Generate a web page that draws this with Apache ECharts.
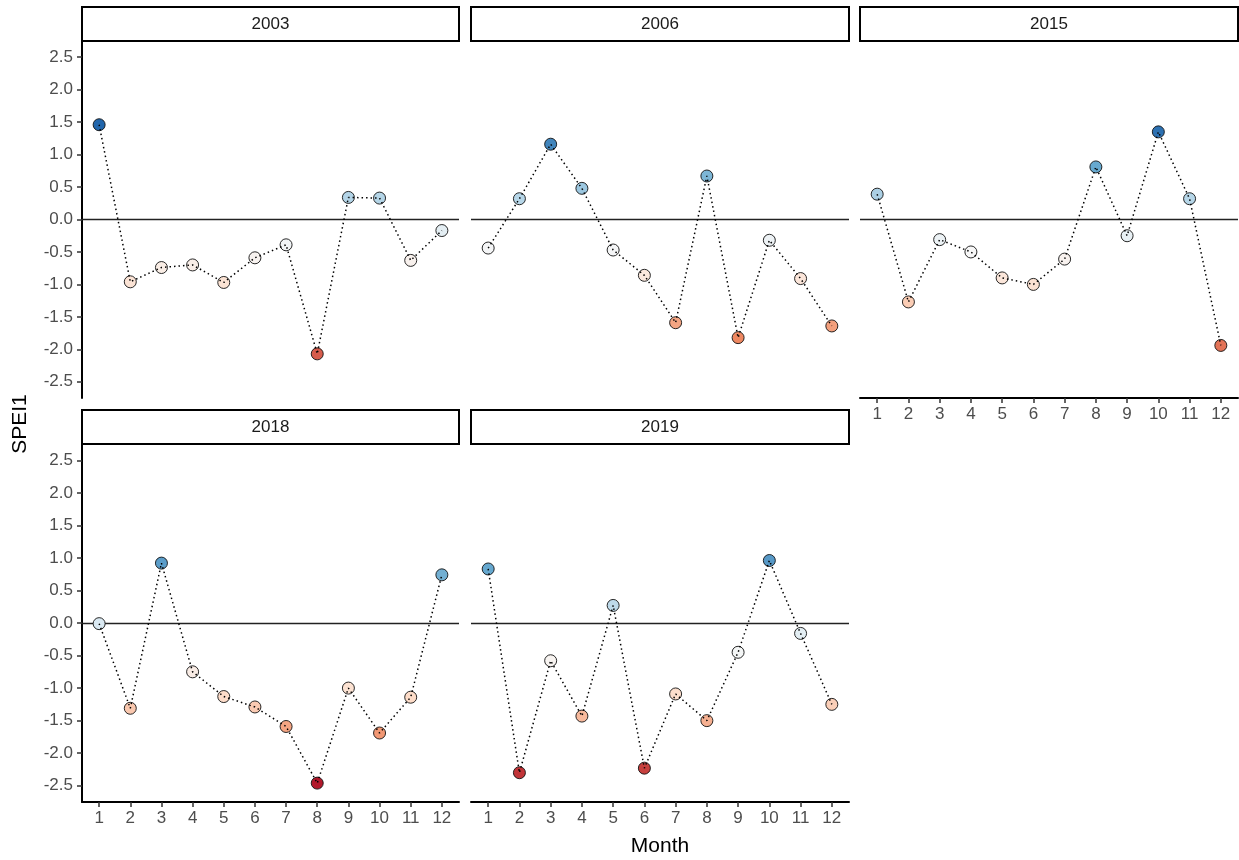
<!DOCTYPE html>
<html>
<head>
<meta charset="utf-8">
<script src="https://cdn.jsdelivr.net/npm/echarts@6/dist/echarts.min.js"></script>
<style>
html,body{margin:0;padding:0;background:#fff;}
#chart{width:1239px;height:860px;}
</style>
</head>
<body>
<div id="chart"></div>
<script>
// ---- data ----
const months = [1,2,3,4,5,6,7,8,9,10,11,12];
const years = ['2003','2006','2015','2018','2019'];
const spei2003 = [1.46,-0.96,-0.74,-0.70,-0.97,-0.59,-0.39,-2.07,0.34,0.33,-0.63,-0.17];
const spei2006 = [-0.44,0.32,1.16,0.48,-0.47,-0.86,-1.59,0.67,-1.82,-0.32,-0.91,-1.64];
const spei2015 = [0.39,-1.27,-0.31,-0.50,-0.90,-1.00,-0.61,0.81,-0.25,1.35,0.32,-1.94];
const spei2018 = [-0.01,-1.31,0.92,-0.75,-1.13,-1.29,-1.59,-2.46,-1.00,-1.69,-1.14,0.74];
const spei2019 = [0.83,-2.30,-0.58,-1.43,0.27,-2.23,-1.09,-1.50,-0.45,0.96,-0.16,-1.25];
const yTicks = [-2.5,-2.0,-1.5,-1.0,-0.5,0.0,0.5,1.0,1.5,2.0,2.5];
const palette = ['#b2182b','#ef8a62','#fddbc7','#f7f7f7','#d1e5f0','#67a9cf','#2166ac'];

const seriesVals = [spei2003, spei2006, spei2015, spei2018, spei2019];

// ---- layout ----
const panels = [
  {left:82,  top:41,  width:377, height:357, xAxis:false, yAxis:true},
  {left:471, top:41,  width:378, height:357, xAxis:false, yAxis:false},
  {left:860, top:41,  width:378, height:357, xAxis:true,  yAxis:false},
  {left:82,  top:444, width:377, height:358, xAxis:true,  yAxis:true},
  {left:471, top:444, width:378, height:358, xAxis:true,  yAxis:false}
];
const stripH = 34;
const FONT = '"Liberation Sans", Arial, sans-serif';

const allVals = [].concat(...seriesVals);
const vMin = Math.min(...allVals), vMax = Math.max(...allVals);

const grids = [], xAxes = [], yAxes = [], series = [], graphics = [];
const scatterIdx = [];

panels.forEach((p, i) => {
  grids.push({left:p.left, top:p.top, width:p.width, height:p.height, containLabel:false});
  xAxes.push({
    type:'value', gridIndex:i, min:0.45, max:12.55,
    show:p.xAxis,
    splitLine:{show:false},
    axisLine:{show:p.xAxis, onZero:false, lineStyle:{color:'#000', width:2}},
    axisTick:{show:p.xAxis, length:5, inside:false, lineStyle:{color:'#333', width:1.5}, customValues:months},
    axisLabel:{show:p.xAxis, customValues:months, color:'#4d4d4d', fontSize:17, fontFamily:FONT, margin:8,
      formatter:v => String(Math.round(v))}
  });
  yAxes.push({
    type:'value', gridIndex:i, min:-2.75, max:2.75,
    show:p.yAxis,
    splitLine:{show:false},
    axisLine:{show:p.yAxis, onZero:false, lineStyle:{color:'#000', width:2}},
    axisTick:{show:p.yAxis, length:5, lineStyle:{color:'#333', width:1.5}, customValues:yTicks},
    axisLabel:{show:p.yAxis, customValues:yTicks, color:'#4d4d4d', fontSize:17, fontFamily:FONT, margin:9,
      formatter:v => v.toFixed(1)}
  });
  const data = months.map((m, k) => [m, seriesVals[i][k]]);
  scatterIdx.push(series.length);
  series.push({
    type:'scatter', xAxisIndex:i, yAxisIndex:i, data:data,
    symbol:'circle', symbolSize:12, z:3,
    itemStyle:{borderColor:'#111', borderWidth:0.9, opacity:1},
    emphasis:{disabled:true},
    markLine:{
      silent:true, symbol:['none','none'], label:{show:false},
      lineStyle:{color:'#222', width:1.4, type:'solid'},
      data:[{yAxis:0}], z:1
    }
  });
  series.push({
    type:'line', xAxisIndex:i, yAxisIndex:i, data:data,
    showSymbol:false, symbol:'none', z:5, silent:true,
    lineStyle:{color:'#000', width:1.5, type:[1.5,3], cap:'butt'},
    emphasis:{disabled:true}
  });
  // strip
  const sy = p.top - stripH;
  graphics.push({
    type:'rect', shape:{x:p.left, y:sy, width:p.width, height:stripH},
    style:{fill:'#fff', stroke:'#000', lineWidth:2}, z:10
  });
  graphics.push({
    type:'text', x:p.left + p.width/2, y:sy + stripH/2, z:11,
    style:{text:years[i], fill:'#1a1a1a', font:'17px ' + FONT, textAlign:'center', textVerticalAlign:'middle'}
  });
});

graphics.push({
  type:'text', x:20, y:424, rotation:Math.PI/2,
  style:{text:'SPEI1', fill:'#000', font:'21px ' + FONT, textAlign:'center', textVerticalAlign:'middle'}
});
graphics.push({
  type:'text', x:660, y:846,
  style:{text:'Month', fill:'#000', font:'21px ' + FONT, textAlign:'center', textVerticalAlign:'middle'}
});

const chart = echarts.init(document.getElementById('chart'), null, {renderer:'canvas'});
chart.setOption({
  backgroundColor:'#fff',
  animation:false,
  grid:grids, xAxis:xAxes, yAxis:yAxes,
  visualMap:{
    type:'continuous', show:false, min:vMin, max:vMax, dimension:1,
    seriesIndex:scatterIdx, inRange:{color:palette}
  },
  series:series,
  graphic:graphics
});
</script>
</body>
</html>
